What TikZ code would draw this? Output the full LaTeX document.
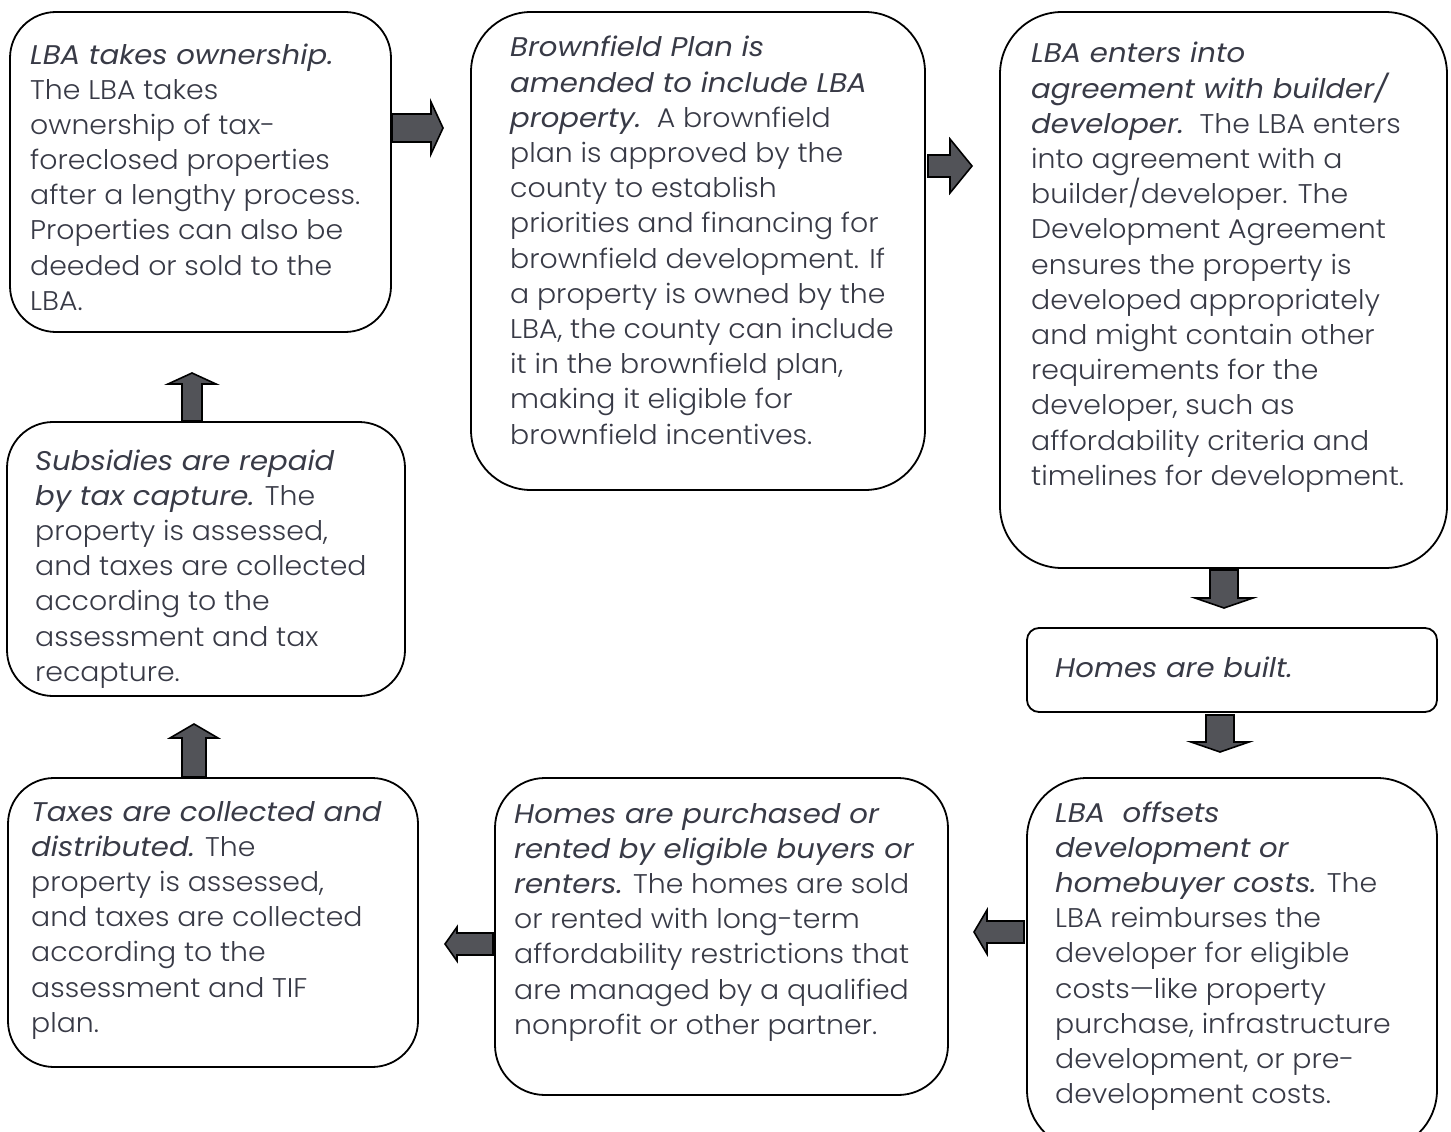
\documentclass[tikz,border=0pt]{standalone}
\usepackage{fontspec}
\setmainfont{Poppins}[UprightFont=* Light, ItalicFont=* Italic, BoldFont=* Light, BoldItalicFont=* Italic, UprightFeatures={FakeStretch=1.05}, ItalicFeatures={FakeStretch=1.08}, BoldFeatures={FakeStretch=1.05}, BoldItalicFeatures={FakeStretch=1.08}]
\usetikzlibrary{calc}
\definecolor{txt}{RGB}{56,58,70}
\definecolor{arrfill}{RGB}{82,83,88}
\tikzset{
  box/.style={draw=black, line width=1.8pt, fill=white, inner sep=0pt},
  para/.style={anchor=base west, inner sep=0pt, text=txt, font=\fontsize{27}{35.2}\selectfont},
  blockarr/.style={draw=black, line width=1.6pt, fill=arrfill, line join=miter},
}
\newcommand\barrow[6]{% start, angle, length, shaft half, head half, head length
  \draw[blockarr, shift={(#1)}, rotate=#2] (0,-#4) -- ({#3-#6},-#4) -- ({#3-#6},-#5) -- (#3,0) -- ({#3-#6},#5) -- ({#3-#6},#4) -- (0,#4) -- cycle;}
\newcommand\ptext[2]{\parbox[t]{#1pt}{\raggedright\setlength{\parindent}{0pt}#2}}
\begin{document}
\begin{tikzpicture}[x=1pt,y=-1pt]
\useasboundingbox (0,0) rectangle (1451,1132);
% boxes
\draw[box, rounded corners=46pt] (10,12) rectangle (391,332) node[pos=.5] (A) {};
\draw[box, rounded corners=60pt] (471,12) rectangle (925,490) node[pos=.5] (B) {};
\draw[box, rounded corners=62pt] (1000,12) rectangle (1447,568) node[pos=.5] (C) {};
\draw[box, rounded corners=12pt] (1027,628) rectangle (1437,712) node[pos=.5] (D) {};
\draw[box, rounded corners=60pt] (1027,778) rectangle (1437,1150) node[pos=.5] (E) {};
\draw[box, rounded corners=50pt] (495,778) rectangle (948,1095) node[pos=.5] (F) {};
\draw[box, rounded corners=46pt] (8,778) rectangle (418,1067) node[pos=.5] (G) {};
\draw[box, rounded corners=46pt] (7,422) rectangle (405,696) node[pos=.5] (H) {};
% texts
\node[para] (tA) at (30,64) {\ptext{380}{\textit{LBA takes ownership.}\\
The LBA takes\\ ownership of tax-\\ foreclosed properties\\ after a lengthy process.\\ Properties can also be\\ deeded or sold to the\\ LBA.}};
\node[para] (tB) at (510,57) {\ptext{440}{\textit{Brownfield Plan is}\\ \textit{amended to include LBA}\\ \textit{property.}\ \ A brownfield\\ plan is approved by the\\ county to establish\\ priorities and financing for\\ brownfield development. If\\ a property is owned by the\\ LBA, the county can include\\ it in the brownfield plan,\\ making it eligible for\\ brownfield incentives.}};
\node[para] (tC) at (1031,63) {\ptext{440}{\textit{LBA enters into}\\ \textit{agreement with builder/}\\ \textit{developer.}\ \ The LBA enters\\ into agreement with a\\ builder/developer. The\\ Development Agreement\\ ensures the property is\\ developed appropriately\\ and might contain other\\ requirements for the\\ developer, such as\\ affordability criteria and\\ timelines for development.}};
\node[para] (tD) at (1055,677) {\textit{Homes are built.}};
\node[para] (tE) at (1055,822) {\ptext{400}{\textit{LBA\ \ offsets}\\ \textit{development or}\\ \textit{homebuyer costs.} The\\ LBA reimburses the\\ developer for eligible\\ costs---like property\\ purchase, infrastructure\\ development, or pre-\\ development costs.}};
\node[para] (tF) at (514,823) {\ptext{450}{\textit{Homes are purchased or}\\ \textit{rented by eligible buyers or}\\ \textit{renters.} The homes are sold\\ or rented with long-term\\ affordability restrictions that\\ are managed by a qualified\\ nonprofit or other partner.}};
\node[para] (tG) at (31,821) {\ptext{400}{\textit{Taxes are collected and}\\ \textit{distributed.} The\\ property is assessed,\\ and taxes are collected\\ according to the\\ assessment and TIF\\ plan.}};
\node[para] (tH) at (35,470) {\ptext{380}{\textit{Subsidies are repaid}\\ \textit{by tax capture.} The\\ property is assessed,\\ and taxes are collected\\ according to the\\ assessment and tax\\ recapture.}};
% arrows
\coordinate (ab) at (392,128);
\coordinate (bc) at (928,166);
\coordinate (cd) at (1224,570);
\coordinate (de) at (1220,715);
\coordinate (ef) at (1024,932);
\coordinate (fg) at (493,944);
\coordinate (gh) at (194,777);
\coordinate (ha) at (192,421);
\barrow{ab}{0}{51}{14}{26}{12}
\barrow{bc}{0}{44}{11}{27}{22}
\barrow{cd}{-90}{38}{14}{29}{10}
\barrow{de}{-90}{37}{14}{29}{10}
\barrow{ef}{180}{50}{11}{22}{13}
\barrow{fg}{180}{48}{11}{17}{12}
\barrow{gh}{90}{53}{12}{24}{14}
\barrow{ha}{90}{48}{10}{24}{11}
\end{tikzpicture}
\end{document}
